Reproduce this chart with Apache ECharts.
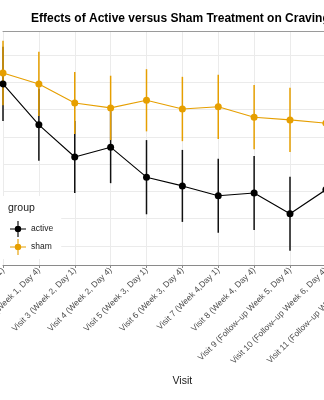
<!DOCTYPE html>
<html>
<head>
<meta charset="utf-8">
<script src="https://cdn.jsdelivr.net/npm/echarts@6/dist/echarts.min.js"></script>
<style>
  html, body { margin: 0; padding: 0; background: #ffffff; }
  #chart { width: 324px; height: 400px; }
</style>
</head>
<body>
<div id="chart"></div>
<script>
// Visit categories (x axis)
const visits = [
  'Visit 1 (Week 1, Day 1)',
  'Visit 2 (Week 1, Day 4)',
  'Visit 3 (Week 2, Day 1)',
  'Visit 4 (Week 2, Day 4)',
  'Visit 5 (Week 3, Day 1)',
  'Visit 6 (Week 3, Day 4)',
  'Visit 7 (Week 4,Day 1)',
  'Visit 8 (Week 4, Day 4)',
  'Visit 9 (Follow\u2013up Week 5, Day 4)',
  'Visit 10 (Follow\u2013up Week 6, Day 4)',
  'Visit 11 (Follow\u2013up Week 7, Day 4)'
];

// Mean craving score and standard error per visit, by group
const activeMean = [39.7, 32.2, 26.3, 28.1, 22.6, 21.0, 19.2, 19.7, 15.9, 20.3, 21.0];
const activeSe   = [6.8, 6.6, 6.6, 6.6, 6.8, 6.6, 6.8, 6.8, 6.8, 6.7, 6.7];
const shamMean   = [41.7, 39.7, 36.2, 35.3, 36.7, 35.1, 35.5, 33.6, 33.1, 32.5, 32.0];
const shamSe     = [5.9, 5.9, 5.7, 5.9, 5.7, 5.9, 5.9, 5.9, 5.9, 5.8, 5.8];

// y range and horizontal reference lines
const yRange = [6.5, 49.4];
const yGridValues = [10, 15, 20, 25, 30, 35, 40, 45];

const groupNames = ['active', 'sham'];
const groupColors = ['#000000', '#E69F00'];

const FONT = "'Liberation Sans', Arial, Helvetica, sans-serif";

// legend key: point with crossing range line and path line
const keyIcon = 'path://M0,9.3H20V10.7H0Z M9.3,0H10.7V20H9.3Z M6,10A4,4 0 1,1 14,10A4,4 0 1,1 6,10Z';

function pointSeries(name, mean, color) {
  return {
    type: 'scatter', name: name, z: 5,
    data: mean.map((m, i) => [i, m]),
    symbol: 'circle', symbolSize: 7,
    itemStyle: { color: color, opacity: 1 },
    silent: true
  };
}

function pathSeries(name, mean, color, z) {
  return {
    type: 'line', name: name, z: z,
    data: mean,
    showSymbol: false, symbol: 'none',
    lineStyle: { color: color, width: 1.1 },
    itemStyle: { color: color },
    silent: true, animation: false
  };
}

function rangeSeries(name, mean, se, color, z) {
  return {
    type: 'custom', name: name, z: z,
    data: mean.map((m, i) => [i, m - se[i], m + se[i]]),
    encode: { x: 0, y: [1, 2] },
    renderItem: function (params, api) {
      const lo = api.coord([api.value(0), api.value(1)]);
      const hi = api.coord([api.value(0), api.value(2)]);
      return {
        type: 'line',
        shape: { x1: lo[0], y1: lo[1], x2: hi[0], y2: hi[1] },
        style: { stroke: color, lineWidth: 1.5 }
      };
    },
    silent: true
  };
}

const chart = echarts.init(document.getElementById('chart'), null, { renderer: 'canvas' });

chart.setOption({
  animation: false,
  backgroundColor: '#ffffff',
  textStyle: { fontFamily: FONT },
  title: [
    {
      text: 'Effects of Active versus Sham Treatment on Craving',
      left: 31, top: 13, padding: 0,
      textStyle: { fontFamily: FONT, fontSize: 12, fontWeight: 'bold', color: '#000000' }
    },
    {
      text: 'group',
      left: 8, top: 203, padding: 0,
      textStyle: { fontFamily: FONT, fontSize: 10.5, fontWeight: 'normal', color: '#1a1a1a' }
    }
  ],
  legend: {
    data: [
      { name: groupNames[0], icon: keyIcon, itemStyle: { color: groupColors[0] } },
      { name: groupNames[1], icon: keyIcon, itemStyle: { color: groupColors[1] } }
    ],
    orient: 'vertical',
    left: 2, top: 196,
    itemWidth: 16, itemHeight: 16, itemGap: 2,
    padding: [25, 8, 4, 8],
    backgroundColor: '#ffffff',
    selectedMode: false,
    z: 6,
    textStyle: { fontFamily: FONT, fontSize: 8.5, color: '#1a1a1a', padding: [0, 0, 0, 0] }
  },
  grid: {
    left: 3, top: 31, width: 358.75, height: 234,
    containLabel: false,
    outerBoundsMode: 'none'
  },
  xAxis: [
    {
      type: 'category',
      data: visits,
      boundaryGap: false,
      position: 'bottom',
      name: 'Visit',
      nameLocation: 'middle',
      nameGap: 111,
      nameTextStyle: { fontFamily: FONT, fontSize: 10.5, color: '#1a1a1a' },
      axisLine: { show: true, onZero: false, lineStyle: { color: '#8a8a8a', width: 1 } },
      axisTick: { show: true, length: 3, lineStyle: { color: '#8a8a8a', width: 1 } },
      axisLabel: {
        interval: 0, rotate: 45, margin: 4,
        fontFamily: FONT, fontSize: 8.5, color: '#4d4d4d'
      },
      splitLine: { show: true, interval: 0, lineStyle: { color: '#ebebeb', width: 1 } }
    },
    {
      type: 'category',
      data: visits,
      boundaryGap: false,
      position: 'top',
      axisLine: { show: true, onZero: false, lineStyle: { color: '#9a9a9a', width: 1 } },
      axisTick: { show: false },
      axisLabel: { show: false },
      splitLine: { show: false }
    }
  ],
  yAxis: {
    type: 'value',
    min: yRange[0], max: yRange[1],
    axisLine: { show: false },
    axisTick: { show: false },
    axisLabel: { show: false },
    splitLine: { show: false }
  },
  series: [
    pointSeries(groupNames[0], activeMean, groupColors[0]),
    pointSeries(groupNames[1], shamMean, groupColors[1]),
    {
      type: 'line', name: 'gridlines', z: 0,
      data: [],
      silent: true,
      markLine: {
        silent: true,
        z: 0,
        symbol: ['none', 'none'],
        label: { show: false },
        lineStyle: { color: '#ebebeb', width: 1, type: 'solid' },
        data: yGridValues.map(v => ({ yAxis: v }))
      }
    },
    pathSeries(groupNames[0], activeMean, groupColors[0], 1),
    pathSeries(groupNames[1], shamMean, groupColors[1], 1),
    rangeSeries(groupNames[0], activeMean, activeSe, '#111111', 3),
    rangeSeries(groupNames[1], shamMean, shamSe, groupColors[1], 3)
  ]
});
</script>
</body>
</html>
